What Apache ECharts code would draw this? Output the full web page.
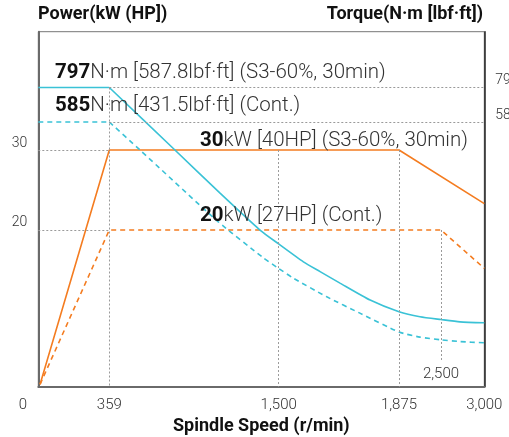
<!DOCTYPE html>
<html>
<head>
<meta charset="utf-8">
<style>html,body{margin:0;padding:0;background:#fff}#c{width:509px;height:437px}</style>
<script src="https://cdn.jsdelivr.net/npm/echarts@6/dist/echarts.min.js"></script>
</head>
<body>
<div id="c"></div>
<script>
// ---- data ----
const xTickRpm = [0, 359, 1500, 1875, 3000];
const xTickLabels = ['0', '359', '1,500', '1,875', '3,000'];
const xInnerTickRpm = [2500];
const xInnerTickLabels = ['2,500'];
const powerTicks = [20, 30];
const torqueTicks = [585, 797];

// power (kW) vs spindle speed (r/min)
const powerS3 = [[9, 0.7], [359, 30], [1875, 30], [3000, 23.3]];
const powerCont = [[9, 0.7], [359, 20], [2500, 20], [3000, 15.2]];
// torque (N·m) vs spindle speed (r/min)
const torqueS3 = [[0, 797], [359, 797], [801, 455], [1105, 309], [1374, 222], [1500, 196], [1577, 167], [1629, 153], [1691, 138], [1785, 118.5], [1875, 106.7], [2187, 102], [2500, 99.5], [2719, 97.5], [3000, 96.7]];
const torqueCont = [[0, 585], [359, 585], [566, 455], [1093, 239], [1394, 173.5], [1500, 157.3], [1545, 144.4], [1650, 122], [1753, 105.4], [1875, 89], [2187, 85], [2500, 83], [2719, 81.7], [3000, 80.8]];

// ---- piecewise speed scale (the printed axis is not linear) ----
const SPEED_SCALE = { rpm: [0, 359, 1500, 1875, 2500, 3000], at: [0, 71, 240.4, 360.7, 402.7, 446] };
function sx(r) {
  const a = SPEED_SCALE.rpm, b = SPEED_SCALE.at;
  for (let i = 1; i < a.length; i++) {
    if (r <= a[i]) return b[i - 1] + (r - a[i - 1]) / (a[i] - a[i - 1]) * (b[i] - b[i - 1]);
  }
  return b[b.length - 1];
}
const pmin = 0.4, pmax = 44.8;          // power axis extent
const tmin = 54.5, tmax = 1314.6;       // torque axis extent (log)
const mapPts = arr => arr.map(p => [sx(p[0]), p[1]]);
function labelFor(v, rpms, labels) {
  let best = 0, d = Infinity;
  rpms.forEach((r, i) => { const dd = Math.abs(sx(r) - v); if (dd < d) { d = dd; best = i; } });
  return labels[best];
}

const ORANGE = '#f47c20', CYAN = '#3ac2d6', GRID = '#9a9a9a';
const FONT = 'Roboto, "Noto Sans", sans-serif';
const gl = { color: GRID, width: 1, type: [2, 2] };
const seg = (a, b) => [{ coord: a, symbol: 'none' }, { coord: b, symbol: 'none' }];
const AF = 20.5;
const rich = {
  b: { fontSize: AF, fontWeight: 'bold', fill: '#111', fontFamily: FONT },
  r: { fontSize: AF, fontWeight: 300, fill: '#333', fontFamily: FONT }
};

const chart = echarts.init(document.getElementById('c'), null, { renderer: 'canvas' });
chart.setOption({
  animation: false,
  textStyle: { fontFamily: FONT },
  grid: { left: 38.3, right: 24.7, top: 31.7, bottom: 50.3, show: true, borderColor: '#777', borderWidth: 1,
          outerBoundsMode: 'none', containLabel: false },
  xAxis: [{
    type: 'value', min: 0, max: 446,
    axisLine: { show: true, onZero: false, lineStyle: { color: '#6a6a6a', width: 2 } },
    axisTick: { show: false }, splitLine: { show: false },
    axisLabel: {
      customValues: xTickRpm.map(sx), margin: 11, color: '#333', fontSize: 15, fontWeight: 300, fontFamily: FONT,
      formatter: v => { const t = labelFor(v, xTickRpm, xTickLabels); return t === '0' ? '{z|0}' : t; },
      rich: { z: { padding: [0, 31, 0, 0], fontSize: 15, fontWeight: 300, color: '#333', fontFamily: FONT } }
    },
    name: 'Spindle Speed (r/min)', nameLocation: 'middle', nameGap: 30,
    nameTextStyle: { fontSize: 18, fontWeight: 'bold', color: '#111', fontFamily: FONT }
  }, {
    type: 'value', min: 0, max: 446, position: 'bottom',
    axisLine: { show: false, onZero: false }, axisTick: { show: false }, splitLine: { show: false },
    axisLabel: {
      inside: true, customValues: xInnerTickRpm.map(sx), margin: 5, color: '#333', fontSize: 15, fontWeight: 300,
      formatter: v => labelFor(v, xInnerTickRpm, xInnerTickLabels)
    }
  }],
  yAxis: [{
    type: 'value', min: pmin, max: pmax, position: 'left',
    axisLine: { show: true, onZero: false, lineStyle: { color: '#6a6a6a', width: 2 } },
    axisTick: { show: false }, splitLine: { show: false },
    axisLabel: { customValues: powerTicks, margin: 11, color: '#333', fontSize: 14, fontWeight: 300, verticalAlign: 'bottom', lineHeight: 14 }
  }, {
    type: 'log', min: tmin, max: tmax, position: 'right',
    axisLine: { show: true, onZero: false, lineStyle: { color: '#222', width: 1.5 } },
    axisTick: { show: false }, splitLine: { show: false },
    axisLabel: { customValues: torqueTicks, margin: 11, color: '#333', fontSize: 14, fontWeight: 300, verticalAlign: 'bottom', lineHeight: 14 }
  }],
  series: [
    { type: 'line', xAxisIndex: 0, yAxisIndex: 0, data: [], z: 1, silent: true,
      markLine: { silent: true, symbol: 'none', label: { show: false }, lineStyle: gl, animation: false, data: [
        seg([sx(0), 30], [sx(359), 30]),
        seg([sx(0), 20], [sx(359), 20]),
        seg([sx(1500), 30], [sx(1500), pmin]),
        seg([sx(1875), 30], [sx(1875), pmin]),
        seg([sx(2500), 20], [sx(2500), 3.5])
      ] } },
    { type: 'line', xAxisIndex: 0, yAxisIndex: 1, data: [], z: 1, silent: true,
      markLine: { silent: true, symbol: 'none', label: { show: false }, lineStyle: gl, animation: false, data: [
        seg([sx(359), 797], [sx(3000), 797]),
        seg([sx(359), 585], [sx(3000), 585]),
        seg([sx(359), 797], [sx(359), tmin])
      ] } },
    { name: 'Power S3', type: 'line', yAxisIndex: 0, data: mapPts(powerS3), showSymbol: false, z: 3,
      lineStyle: { color: ORANGE, width: 1.6 } },
    { name: 'Power Cont', type: 'line', yAxisIndex: 0, data: mapPts(powerCont), showSymbol: false, z: 3,
      lineStyle: { color: ORANGE, width: 1.6, type: [5, 4] } },
    // torque: flat constant-torque part + smooth falling part
    { name: 'Torque S3', type: 'line', yAxisIndex: 1, data: mapPts(torqueS3.slice(0, 2)), showSymbol: false, z: 3,
      lineStyle: { color: CYAN, width: 1.6 } },
    { name: 'Torque S3', type: 'line', yAxisIndex: 1, data: mapPts(torqueS3.slice(1)), showSymbol: false, z: 3,
      smooth: 0.2, lineStyle: { color: CYAN, width: 1.6 } },
    { name: 'Torque Cont', type: 'line', yAxisIndex: 1, data: mapPts(torqueCont.slice(0, 2)), showSymbol: false, z: 3,
      lineStyle: { color: CYAN, width: 1.6, type: [5, 4] } },
    { name: 'Torque Cont', type: 'line', yAxisIndex: 1, data: mapPts(torqueCont.slice(1)), showSymbol: false, z: 3,
      smooth: 0.2, lineStyle: { color: CYAN, width: 1.6, type: [5, 4] } }
  ],
  graphic: [
    { type: 'text', left: 38, top: 5, style: { text: 'Power(kW (HP])', font: 'bold 18px ' + FONT, fill: '#111' } },
    { type: 'text', right: 26, top: 5, style: { text: 'Torque(N·m [lbf·ft])', font: 'bold 18px ' + FONT, fill: '#111' } },
    { type: 'text', x: 55, y: 73, z: 10, style: { text: '{b|797}{r|N·m [587.8lbf·ft] (S3-60%, 30min)}', verticalAlign: 'middle', rich } },
    { type: 'text', x: 55, y: 105.5, z: 10, style: { text: '{b|585}{r|N·m [431.5lbf·ft] (Cont.)}', verticalAlign: 'middle', rich } },
    { type: 'text', x: 200, y: 141, z: 10, style: { text: '{b|30}{r|kW [40HP] (S3-60%, 30min)}', verticalAlign: 'middle', rich } },
    { type: 'text', x: 200, y: 216, z: 10, style: { text: '{b|20}{r|kW [27HP] (Cont.)}', verticalAlign: 'middle', rich } }
  ]
});
</script>
</body>
</html>
